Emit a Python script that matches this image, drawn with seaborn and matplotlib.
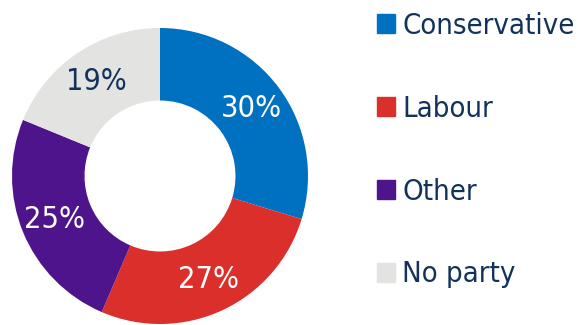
import matplotlib
matplotlib.use("Agg")
import matplotlib.pyplot as plt
import matplotlib.patches as mpatches
import seaborn as sns

# ---------------------------
# DATA
# ---------------------------
parties = ["Conservative", "Labour", "Other", "No party"]
shares = [30, 27, 25, 19]
colors = ["#0070C0", "#DA2F2B", "#4E148C", "#E3E3E1"]
label_colors = ["white", "white", "white", "#13325B"]

# ---------------------------
# STYLE
# ---------------------------
sns.set_theme(style="white")
plt.rcParams["font.family"] = ["DejaVu Sans"]
plt.rcParams["font.stretch"] = "condensed"
TEXT = "#13325B"

fig = plt.figure(figsize=(5.78, 3.25), dpi=100)
ax = fig.add_axes([12 / 578, 1 / 325, 296 / 578, 296 / 325])

wedges, _, autotexts = ax.pie(
    shares,
    colors=sns.color_palette(colors),
    startangle=90,
    counterclock=False,
    autopct=lambda p: f"{p * sum(shares) / 100:.0f}%",
    pctdistance=0.77,
    wedgeprops=dict(width=0.49, edgecolor="none"),
    radius=1.0,
)
for t, c in zip(autotexts, label_colors):
    t.set_color(c)
    t.set_fontsize(22)
ax.set_xlim(-1, 1)
ax.set_ylim(-1, 1)
ax.set_aspect("equal")

# legend on the right
handles = [mpatches.Patch(color=c, label=p) for c, p in zip(colors, parties)]
leg = fig.legend(
    handles=handles,
    loc="upper left",
    bbox_to_anchor=(377 / 578, 1.0 - 12 / 325),
    frameon=False,
    fontsize=21,
    handlelength=0.62,
    handleheight=0.62,
    handletextpad=0.25,
    labelspacing=1.88,
    borderpad=0,
    borderaxespad=0,
)
for t in leg.get_texts():
    t.set_color(TEXT)

fig.savefig("out.png", dpi=100)
